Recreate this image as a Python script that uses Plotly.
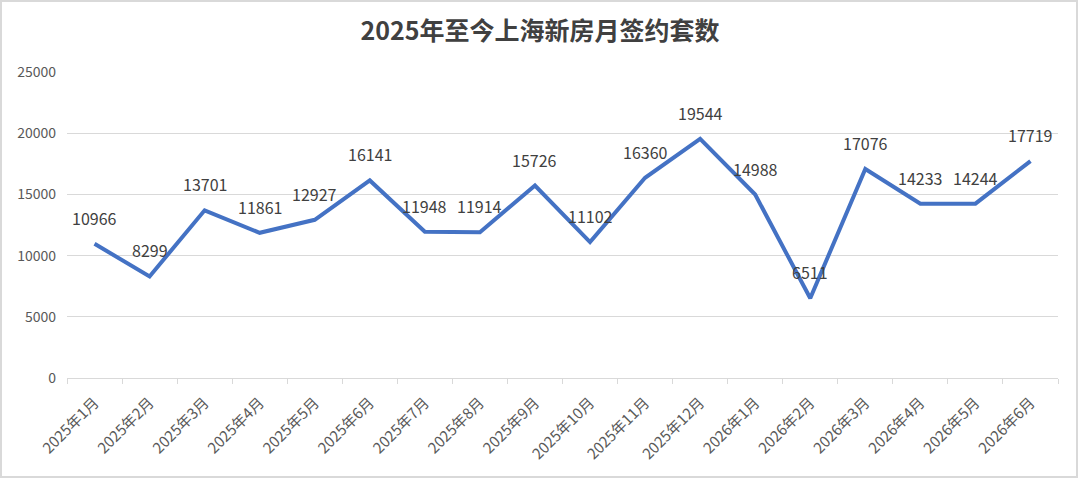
import plotly.graph_objects as go

months = ["2025年1月", "2025年2月", "2025年3月", "2025年4月", "2025年5月", "2025年6月",
          "2025年7月", "2025年8月", "2025年9月", "2025年10月", "2025年11月", "2025年12月",
          "2026年1月", "2026年2月", "2026年3月", "2026年4月", "2026年5月", "2026年6月"]
counts = [10966, 8299, 13701, 11861, 12927, 16141, 11948, 11914, 15726, 11102,
          16360, 19544, 14988, 6511, 17076, 14233, 14244, 17719]
y_ticks = [0, 5000, 10000, 15000, 20000, 25000]
title_text = "2025年至今上海新房月签约套数"

FONT = "Noto Sans CJK SC"
W, H = 1080, 479
L, R, T, B = 67, 22, 72, 101

fig = go.Figure()
fig.add_trace(go.Scatter(
    x=months, y=counts, mode="lines",
    line=dict(color="#4472C4", width=4),
    hoverinfo="x+y", showlegend=False,
))

for m, v in zip(months, counts):
    fig.add_annotation(x=m, y=v, text=str(v), showarrow=False, yshift=26,
                       font=dict(family=FONT, size=16, color="#404040"))

pw = W - L - R
ph = H - T - B
fig.add_shape(type="rect", xref="paper", yref="paper",
              x0=(1 - L) / pw, x1=(1077 - L) / pw,
              y0=-(B - 2) / ph, y1=(H - B - 1) / ph,
              line=dict(color="#d9d9d9", width=2), layer="below")

fig.update_layout(
    width=W, height=H,
    margin=dict(l=L, r=R, t=T, b=B),
    paper_bgcolor="white", plot_bgcolor="white",
    title=dict(text="<b>" + title_text + "</b>", x=0.5, xanchor="center",
               y=1 - 31 / H, yanchor="middle",
               font=dict(family=FONT, size=25, color="#404040")),
    font=dict(family=FONT, color="#595959"),
)
fig.update_xaxes(
    type="category", range=[-0.5, len(months) - 0.5],
    tickangle=-45, tickson="boundaries", ticks="outside", ticklen=5,
    tickcolor="#d9d9d9", showline=True, linecolor="#d9d9d9", linewidth=1,
    showgrid=False, ticklabelstandoff=9,
    tickfont=dict(family=FONT, size=15, color="#595959"),
)
fig.update_yaxes(
    range=[0, 25000], tickvals=y_ticks, ticktext=[str(t) for t in y_ticks],
    showgrid=True, gridcolor="#d9d9d9", gridwidth=1, zeroline=False,
    showline=False, ticks="", ticklabelstandoff=10,
    tickfont=dict(family=FONT, size=14, color="#595959"),
)

fig.write_html("out.html", config={"displayModeBar": False},
               post_script="document.body.style.margin='0';")
